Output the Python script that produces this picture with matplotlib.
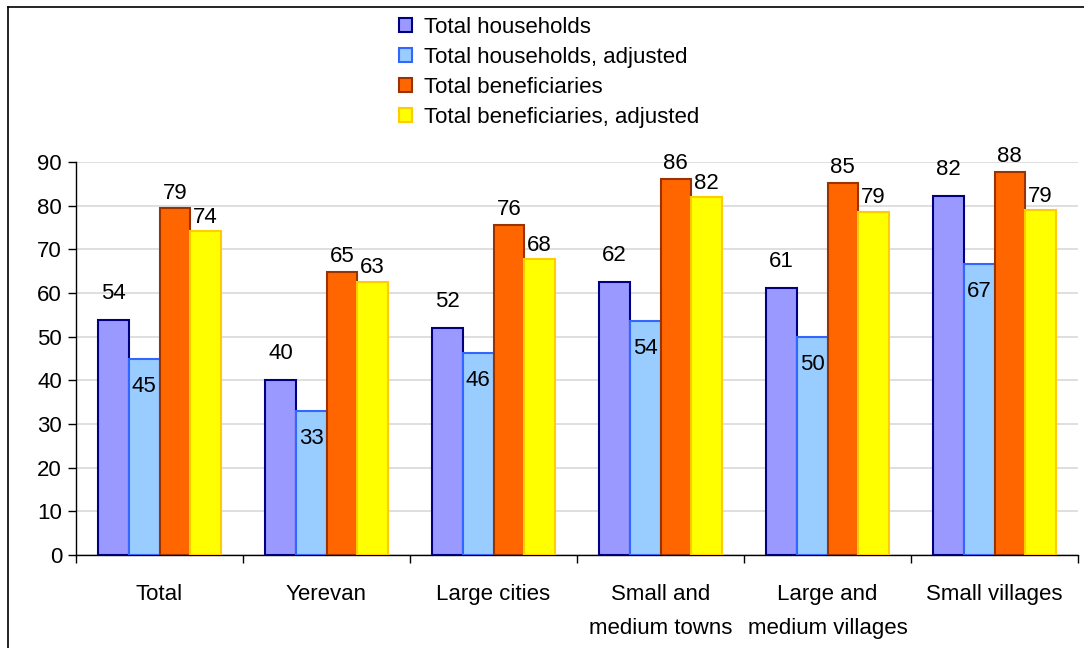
import matplotlib
matplotlib.use('Agg')
import numpy as np
import matplotlib.pyplot as plt
from matplotlib.lines import Line2D

categories = ['Total', 'Yerevan', 'Large cities', 'Small and\nmedium towns',
              'Large and\nmedium villages', 'Small villages']
series_names = ['Total households', 'Total households, adjusted',
                'Total beneficiaries', 'Total beneficiaries, adjusted']
households = [53.8, 40.1, 52.0, 62.5, 61.1, 82.2]
households_adj = [44.9, 33.0, 46.3, 53.6, 49.9, 66.6]
beneficiaries = [79.4, 64.8, 75.6, 86.1, 85.2, 87.7]
beneficiaries_adj = [74.2, 62.6, 67.8, 82.0, 78.6, 79.0]

face_colors = ['#9999FF', '#99CCFF', '#FF6600', '#FFFF00']
edge_colors = ['#000080', '#3366FF', '#993300', '#FFCC00']
# label offsets (points) relative to bar top for each series
label_offsets = [19, -20, 11, 10]

plt.rcParams['font.family'] = ['Liberation Sans', 'DejaVu Sans']
fs = 16

fig = plt.figure(figsize=(10.84, 6.48), dpi=100)
ax = fig.add_axes([76 / 1084, 93 / 648, (1078 - 76) / 1084, (555 - 162) / 648])

data = [households, households_adj, beneficiaries, beneficiaries_adj]
x = np.arange(len(categories))
width = 0.183
for i, vals in enumerate(data):
    pos = x + (i - 1.5) * width
    ax.bar(pos, vals, width, color=face_colors[i], edgecolor=edge_colors[i],
           linewidth=1.5, label=series_names[i], zorder=3)
    for xp, v in zip(pos, vals):
        ax.annotate(f'{v:.0f}', (xp, v), xytext=(0, label_offsets[i]),
                    textcoords='offset points', ha='center', va='center',
                    fontsize=fs, zorder=4)

ax.set_xlim(-0.5, len(categories) - 0.5)
ax.set_ylim(0, 90)
ax.set_yticks(np.arange(0, 91, 10))
ax.yaxis.grid(True, color='#D9D9D9', linewidth=1.2, zorder=0)
ax.set_axisbelow(True)

# category boundary ticks on x axis
ax.set_xticks(np.arange(-0.5, len(categories)), minor=False)
ax.set_xticklabels([])
ax.set_xticks(x, minor=True)
ax.set_xticklabels(categories, minor=True, linespacing=1.8, fontsize=fs)
ax.tick_params(axis='x', which='major', direction='out', length=6, width=1)
ax.tick_params(axis='x', which='minor', length=0, pad=21)
ax.tick_params(axis='y', direction='out', length=6, width=1, pad=4, labelsize=fs)

ax.spines['top'].set_visible(False)
ax.spines['right'].set_visible(False)
ax.spines['left'].set_linewidth(1)
ax.spines['bottom'].set_linewidth(1)

fig.legend(loc='upper left', bbox_to_anchor=(388 / 1084, 1 - 6 / 648),
           frameon=False, handlelength=0.6, handleheight=0.6,
           handletextpad=0.5, labelspacing=0.4, borderpad=0, fontsize=fs)

# outer frame of the chart area
fig.add_artist(Line2D([8 / 1084, 8 / 1084], [0, 1 - 7 / 648], color='black', lw=1.2))
fig.add_artist(Line2D([8 / 1084, 1], [1 - 7 / 648, 1 - 7 / 648], color='black', lw=1.2))

fig.savefig('out.png', dpi=100)
